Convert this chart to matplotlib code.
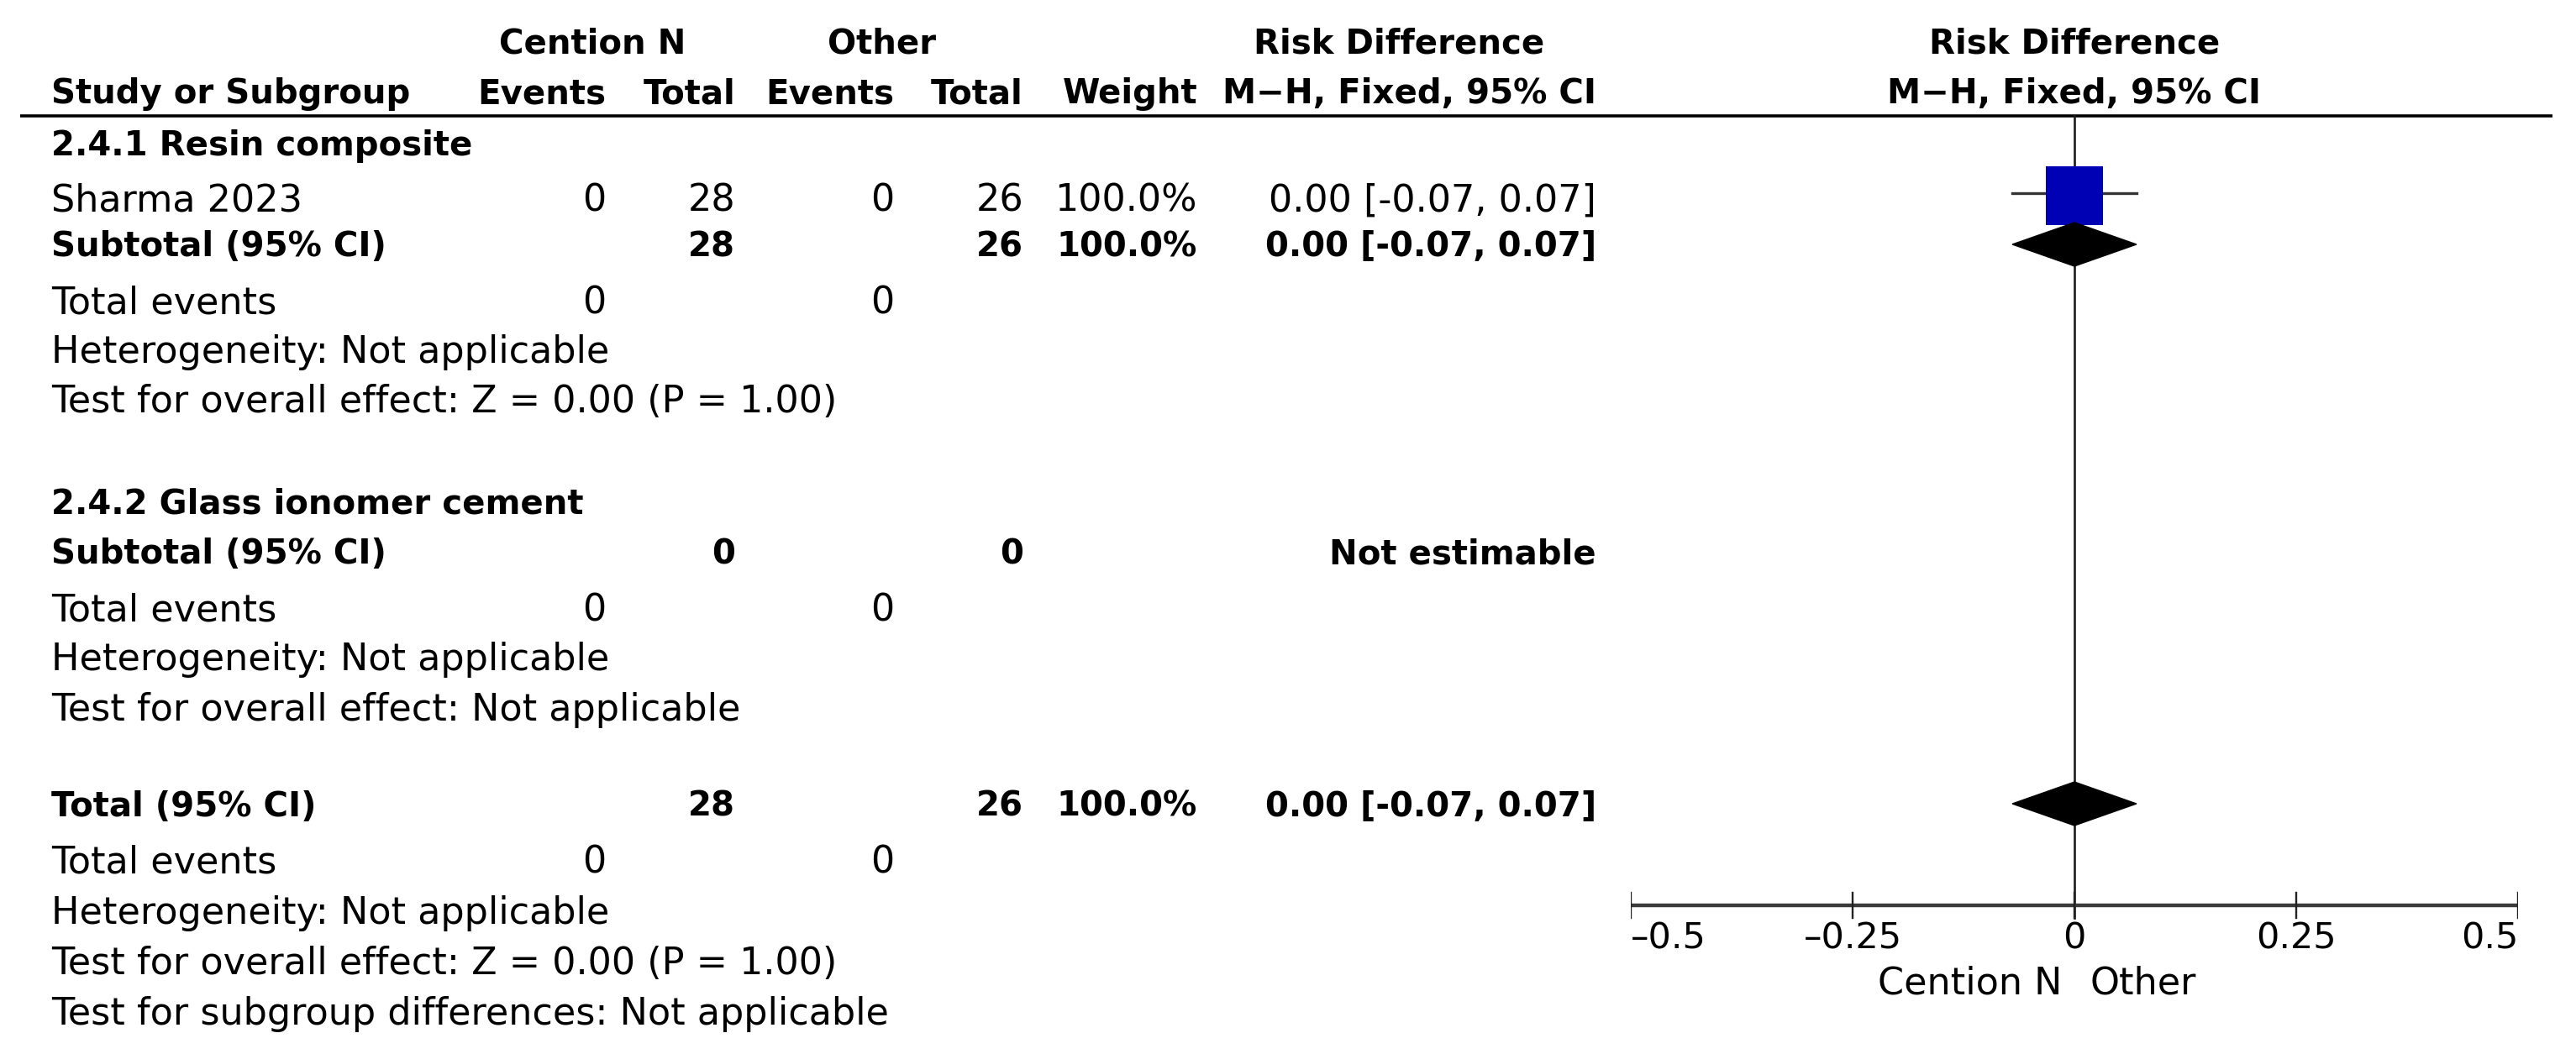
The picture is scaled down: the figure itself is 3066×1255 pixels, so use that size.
import matplotlib
matplotlib.use('Agg')
import matplotlib.pyplot as plt
from matplotlib.patches import Rectangle, Polygon

# study level data
studies = ['Sharma 2023']
cn_events = [0]
cn_total = [28]
oth_events = [0]
oth_total = [26]
weights = [100.0]
rd = [0.00]
rd_lo = [-0.07]
rd_hi = [0.07]

# subgroup / overall summaries
sub_names = ['2.4.1 Resin composite', '2.4.2 Glass ionomer cement']
sub_cn_total = [28, 0]
sub_oth_total = [26, 0]
sub_cn_events = [0, 0]
sub_oth_events = [0, 0]
sub_weight = ['100.0%', '']
sub_rd = [0.00, None]
sub_lo = [-0.07, None]
sub_hi = [0.07, None]
sub_effect = ['Test for overall effect: Z = 0.00 (P = 1.00)',
              'Test for overall effect: Not applicable']

tot_cn_total = 28
tot_oth_total = 26
tot_rd = 0.00
tot_lo = -0.07
tot_hi = 0.07

xticks = [-0.5, -0.25, 0, 0.25, 0.5]
xticklabels = ['\u20130.5', '\u20130.25', '0', '0.25', '0.5']

FS = 32   # regular text
FB = 29   # bold text
W, H = 3066, 1255

fig = plt.figure(figsize=(W / 100, H / 100), dpi=100)
tab = fig.add_axes([0, 0, 1, 1])
tab.set_xlim(0, W)
tab.set_ylim(H, 0)
tab.axis('off')

# forest panel, x in risk difference units, y in rows (pixels)
fx0, fx1 = 1941, 2997
forest = fig.add_axes([fx0 / W, 0, (fx1 - fx0) / W, 1])
forest.set_xlim(-0.5, 0.5)
forest.set_ylim(H, 0)
forest.axis('off')
px = 1.0 / (fx1 - fx0)  # one pixel in x data units


def put(x, y, s, ha='left', bold=False):
    tab.text(x, y, s, ha=ha, va='baseline', fontsize=FB if bold else FS,
             fontweight='bold' if bold else 'normal', color='black')


def fmt_ci(m, lo, hi):
    return '{:.2f} [{:.2f}, {:.2f}]'.format(m, lo, hi)


# column anchors (right edges)
c_lbl = 61
c_ce, c_ct, c_oe, c_ot, c_w, c_rd = 721, 875, 1064, 1218, 1425, 1900

# headers
put(705, 63, 'Cention N', ha='center', bold=True)
put(1050, 63, 'Other', ha='center', bold=True)
put(1665, 63, 'Risk Difference', ha='center', bold=True)
put(c_lbl, 123, 'Study or Subgroup', bold=True)
put(c_ce, 123, 'Events', ha='right', bold=True)
put(c_ct, 123, 'Total', ha='right', bold=True)
put(c_oe, 123, 'Events', ha='right', bold=True)
put(c_ot, 123, 'Total', ha='right', bold=True)
put(c_w, 123, 'Weight', ha='right', bold=True)
put(c_rd, 123, 'M\u2212H, Fixed, 95% CI', ha='right', bold=True)
forest.text(0, 63, 'Risk Difference', ha='center', va='baseline', fontsize=FB, fontweight='bold')
forest.text(0, 123, 'M\u2212H, Fixed, 95% CI', ha='center', va='baseline', fontsize=FB, fontweight='bold')
tab.plot([24, 3038], [138, 138], color='black', lw=2.6, solid_capstyle='butt')

# subgroup 1
put(c_lbl, 185, sub_names[0], bold=True)
for i, name in enumerate(studies):
    y = 252
    ym = 233
    put(c_lbl, y, name)
    put(c_ce, y, str(cn_events[i]), ha='right')
    put(c_ct, y, str(cn_total[i]), ha='right')
    put(c_oe, y, str(oth_events[i]), ha='right')
    put(c_ot, y, str(oth_total[i]), ha='right')
    put(c_w, y, '{:.1f}%'.format(weights[i]), ha='right')
    put(c_rd, y, fmt_ci(rd[i], rd_lo[i], rd_hi[i]), ha='right')
    # CI line and weighted box
    forest.plot([rd_lo[i], rd_hi[i]], [ym - 3, ym - 3], color='#333333', lw=2.4, zorder=3)
    bw = 68 * px * weights[i] / 100.0
    bh = 70 * weights[i] / 100.0
    forest.add_patch(Rectangle((rd[i] - bw / 2, ym - bh / 2), bw, bh,
                               facecolor='#0000B4', edgecolor='none', zorder=4))

rows1 = [305, 373, 432, 491]
put(c_lbl, rows1[0], 'Subtotal (95% CI)', bold=True)
put(c_ct, rows1[0], str(sub_cn_total[0]), ha='right', bold=True)
put(c_ot, rows1[0], str(sub_oth_total[0]), ha='right', bold=True)
put(c_w, rows1[0], sub_weight[0], ha='right', bold=True)
put(c_rd, rows1[0], fmt_ci(sub_rd[0], sub_lo[0], sub_hi[0]), ha='right', bold=True)
put(c_lbl, rows1[1], 'Total events')
put(c_ce, rows1[1], str(sub_cn_events[0]), ha='right')
put(c_oe, rows1[1], str(sub_oth_events[0]), ha='right')
put(c_lbl, rows1[2], 'Heterogeneity: Not applicable')
put(c_lbl, rows1[3], sub_effect[0])

# subgroup 2
rows2 = [612, 671, 739, 798, 858]
put(c_lbl, rows2[0], sub_names[1], bold=True)
put(c_lbl, rows2[1], 'Subtotal (95% CI)', bold=True)
put(c_ct, rows2[1], str(sub_cn_total[1]), ha='right', bold=True)
put(c_ot, rows2[1], str(sub_oth_total[1]), ha='right', bold=True)
put(c_rd, rows2[1], 'Not estimable', ha='right', bold=True)
put(c_lbl, rows2[2], 'Total events')
put(c_ce, rows2[2], str(sub_cn_events[1]), ha='right')
put(c_oe, rows2[2], str(sub_oth_events[1]), ha='right')
put(c_lbl, rows2[3], 'Heterogeneity: Not applicable')
put(c_lbl, rows2[4], sub_effect[1])

# overall
rows3 = [972, 1040, 1100, 1160, 1220]
put(c_lbl, rows3[0], 'Total (95% CI)', bold=True)
put(c_ct, rows3[0], str(tot_cn_total), ha='right', bold=True)
put(c_ot, rows3[0], str(tot_oth_total), ha='right', bold=True)
put(c_w, rows3[0], '100.0%', ha='right', bold=True)
put(c_rd, rows3[0], fmt_ci(tot_rd, tot_lo, tot_hi), ha='right', bold=True)
put(c_lbl, rows3[1], 'Total events')
put(c_ce, rows3[1], str(sum(cn_events)), ha='right')
put(c_oe, rows3[1], str(sum(oth_events)), ha='right')
put(c_lbl, rows3[2], 'Heterogeneity: Not applicable')
put(c_lbl, rows3[3], 'Test for overall effect: Z = 0.00 (P = 1.00)')
put(c_lbl, rows3[4], 'Test for subgroup differences: Not applicable')


def diamond(m, lo, hi, yc, hh=26):
    forest.add_patch(Polygon([(lo, yc), (m, yc - hh), (hi, yc), (m, yc + hh)],
                             closed=True, facecolor='black', edgecolor='black', lw=1, zorder=4))


diamond(sub_rd[0], sub_lo[0], sub_hi[0], 291)
diamond(tot_rd, tot_lo, tot_hi, 957)

# line of no effect and scale
axis_y = 1078
forest.plot([0, 0], [138, axis_y + 15], color='#1a1a1a', lw=1.9, zorder=2)
forest.plot([-0.5, 0.5], [axis_y, axis_y], color='#3a3a3a', lw=3.2, solid_capstyle='butt')
for k, (t, lab) in enumerate(zip(xticks, xticklabels)):
    forest.plot([t, t], [axis_y - 15, axis_y + 15], color='#222222', lw=1.7)
    ha = 'center'
    if k == 0:
        ha = 'left'
    elif k == len(xticks) - 1:
        ha = 'right'
    forest.text(t, 1130, lab, ha=ha, va='baseline', fontsize=31)
forest.text(-15 * px, 1184, 'Cention N', ha='right', va='baseline', fontsize=FS)
forest.text(18 * px, 1184, 'Other', ha='left', va='baseline', fontsize=FS)

fig.savefig('out.png', dpi=100)
